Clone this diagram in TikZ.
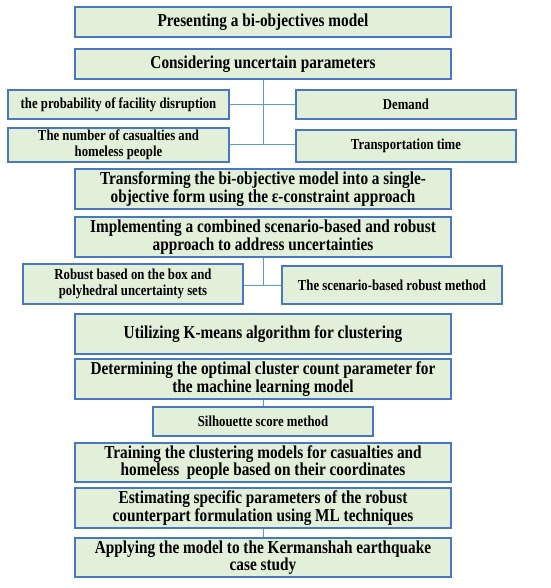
\documentclass[tikz,border=0pt]{standalone}
\usepackage{fontspec}
\setmainfont[FakeStretch=0.84]{Liberation Serif}
\begin{document}
\begin{tikzpicture}[x=1pt,y=-1pt,
  every node/.style={inner sep=0pt},
  box/.style={draw=boxblue, line width=1.1pt, fill=boxgreen, align=center, font=\bfseries\fontsize{18.2}{16.2}\selectfont, anchor=center},
  sbox/.style={box, font=\bfseries\fontsize{15.2}{16}\selectfont},
  link/.style={draw=lineblue, line width=1pt}]
\definecolor{boxblue}{HTML}{4A78C0}
\definecolor{boxgreen}{HTML}{E2EFD9}
\definecolor{lineblue}{HTML}{5B9BD5}
\useasboundingbox (0,0) rectangle (550,588);
\node[box, minimum width=376, minimum height=30] (b1) at (263,22) {Presenting a bi-objectives model};
\node[box, minimum width=376, minimum height=30] (b2) at (263,64) {Considering uncertain parameters};
\node[sbox, minimum width=221, minimum height=29] (l1) at (118.5,104.5) {the probability of facility disruption};
\node[sbox, minimum width=220, minimum height=29] (r1) at (406,104.5) {Demand};
\node[sbox, minimum width=221, minimum height=34] (l2) at (118.5,145) {The number of casualties and\\homeless people};
\node[sbox, minimum width=220, minimum height=32] (r2) at (406,146) {Transportation time};
\node[box, minimum width=376, minimum height=40] (b3) at (263,189) {Transforming the bi-objective model into a single-\\objective form using the ε-constraint approach};
\node[box, minimum width=376, minimum height=40] (b4) at (263,237) {Implementing a combined scenario-based and robust\\approach to address uncertainties};
\node[sbox, minimum width=220, minimum height=40] (l3) at (133,284) {Robust based on the box and\\polyhedral uncertainty sets};
\node[sbox, minimum width=220, minimum height=38] (r3) at (392,285) {The scenario-based robust method};
\node[box, minimum width=376, minimum height=40] (b5) at (263,334) {Utilizing K-means algorithm for clustering};
\node[box, minimum width=376, minimum height=40] (b6) at (263,379) {Determining the optimal cluster count parameter for\\the machine learning model};
\node[sbox, minimum width=220, minimum height=29] (s1) at (263,421.5) {Silhouette score method};
\node[box, minimum width=376, minimum height=39] (b7) at (263,462.5) {Training the clustering models for casualties and\\homeless\ \ people based on their coordinates};
\node[box, minimum width=376, minimum height=40] (b8) at (263,508) {Estimating specific parameters of the robust\\counterpart formulation using ML techniques};
\node[box, minimum width=376, minimum height=39] (b9) at (263,557.5) {Applying the model to the Kermanshah earthquake\\case study};
\coordinate (j1) at (263,145);
\coordinate (j2) at (263,285);
\draw[link] (b2.south) -- (j1);
\draw[link] (l1.east) -- (r1.west);
\draw[link] (l2.east) -- (r2.west |- l2.east);
\draw[link] (b4.south) -- (j2);
\draw[link] (l3.east |- j2) -- (r3.west |- j2);
\draw[link] (b6.south) -- (s1.north);
\draw[link] (b8.south) -- (b9.north);
\end{tikzpicture}
\end{document}
